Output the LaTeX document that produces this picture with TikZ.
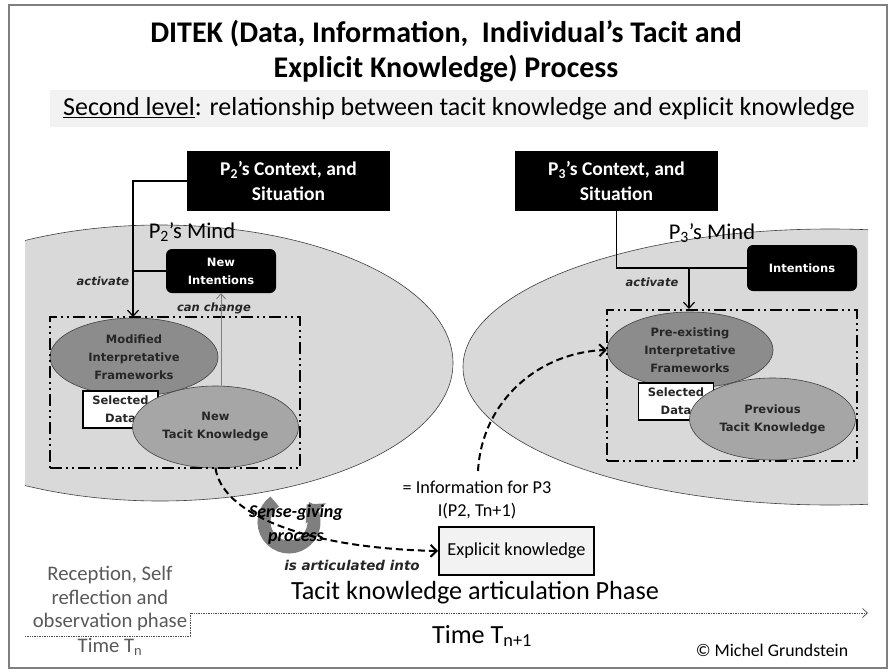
\documentclass[tikz,border=0pt]{standalone}
\usepackage{fontspec}
\setmainfont{Carlito}
\newfontfamily\dvs{DejaVu Sans}
\usetikzlibrary{arrows.meta,shapes.geometric}
\definecolor{mindfill}{HTML}{D9D9D9}
\definecolor{fwfill}{HTML}{8C8C8C}
\definecolor{tkfill}{HTML}{A6A6A6}
\definecolor{bandfill}{HTML}{F2F2F2}
\definecolor{edgegray}{HTML}{404040}
\definecolor{txtgray}{HTML}{595959}
\definecolor{icongray}{HTML}{7F7F7F}
\newcommand{\fsz}[2]{\fontsize{#1}{#2}\selectfont}
\begin{document}
\begin{tikzpicture}[x=1pt,y=-1pt,
 ctxbox/.style={fill=black,text=white,font=\bfseries\fsz{19.5}{25},align=center,minimum width=203pt,minimum height=60pt,inner sep=0pt},
 intbox/.style={fill=black,rounded corners=6pt,text=white,font=\dvs\bfseries\fsz{11.5}{18},align=center,inner sep=0pt},
 mind/.style={ellipse,fill=mindfill,draw=edgegray,line width=0.6pt,inner sep=0pt},
 fwell/.style={ellipse,fill=fwfill,draw=edgegray,line width=0.6pt,inner sep=0pt,minimum width=168pt,minimum height=78pt,font=\dvs\bfseries\fsz{11.5}{18},text=black!85,align=center},
 tkell/.style={fwell,fill=tkfill,minimum width=166pt,minimum height=82pt},
 seldata/.style={draw=black,line width=1.8pt,fill=white,minimum width=75pt,minimum height=37pt,inner sep=0pt,font=\dvs\bfseries\fsz{11.5}{18},align=center,text=black!85},
 dashbox/.style={draw=black,line width=2pt,dash pattern=on 12pt off 4pt on 2pt off 4pt on 2pt off 4pt,inner sep=0pt,minimum width=250pt,minimum height=151pt},
 smalllab/.style={font=\dvs\bfseries\itshape\fsz{11.5}{13},text=black!85},
 mindlab/.style={font=\fsz{22.5}{24}},
 conn/.style={line width=1.2pt},
 arr/.style={conn,-{Straight Barb[length=6pt,width=11pt,line width=1.2pt]}},
 grayarr/.style={line width=0.9pt,draw=icongray,-{Straight Barb[length=5pt,width=9pt]}},
 dasharr/.style={line width=2pt,dash pattern=on 7pt off 4pt,-{Straight Barb[length=6pt,width=12pt,line width=2pt]}},
 timeline/.style={draw=black!70,line width=0.7pt,dash pattern=on 1pt off 0.7pt,-{Straight Barb[length=5pt,width=9pt,line width=0.7pt]}},
]
\useasboundingbox (0,0) rectangle (892,672);
\draw[draw=icongray,line width=1.4pt] (9,5) rectangle (887,668);

% title
\node[font=\bfseries\fsz{30}{35},align=center] (title) at (446,51) {DITEK (Data, Information,\ \ Individual’s Tacit and\\Explicit Knowledge) Process};
\node[fill=bandfill,minimum width=818pt,minimum height=37pt,font=\fsz{26}{28},inner sep=0pt] (band) at (459,108.5) {\underline{Second level}: relationship between tacit knowledge and explicit knowledge};

% minds
\begin{scope}
\clip (25,0) rectangle (868,672);
\node[mind,minimum width=586pt,minimum height=276pt] (m2) at (160,363) {};
\node[mind,minimum width=734pt,minimum height=276pt] (m3) at (830,367) {};
\end{scope}
\node[mindlab] (m2lab) at (192,232) {P\textsubscript{2}’s Mind};
\node[mindlab] (m3lab) at (712,233) {P\textsubscript{3}’s Mind};

% context boxes
\node[ctxbox] (P2) at (288.5,181) {P\textsubscript{2}’s Context, and\\Situation};
\node[ctxbox] (P3) at (616.5,181) {P\textsubscript{3}’s Context, and\\Situation};

% intentions
\node[intbox,minimum width=110pt,minimum height=44pt] (NI) at (221,271) {New\\Intentions};
\node[intbox,minimum width=110pt,minimum height=46pt] (I3) at (802,268) {Intentions};

% left inner
\node[fwell] (fw2) at (134,357) {Modified\\Interpretative\\Frameworks};
\node[seldata] (sd2) at (120.5,409.5) {Selected\\Data};
\node[tkell] (tk2) at (215.5,427) {New\\Tacit Knowledge};
\node[dashbox] (d2) at (175,392.5) {};

% right inner
\node[fwell,minimum width=166pt,minimum height=76pt] (fw3) at (690,350) {Pre-existing\\Interpretative\\Frameworks};
\node[seldata] (sd3) at (676,401.5) {Selected\\Data};
\node[tkell] (tk3) at (772.5,419) {Previous\\Tacit Knowledge};
\node[dashbox] (d3) at (732,385.5) {};

% labels
\node[smalllab] (act2) at (103,281) {activate};
\node[smalllab] (act3) at (652,282) {activate};
\node[smalllab] (cc) at (214,308) {can change};

% connectors left
\coordinate (a2) at (133,317);
\draw[arr] (P2.west) -| (a2);
\draw[conn] (NI.west) -- (NI.west -| a2);
\draw[grayarr] (NI.south |- tk2.north) -- (NI.south);

% connectors right
\coordinate (a3) at (689,268);
\draw[conn] (P3.south) |- (I3.west);
\draw[arr] (a3) -- (a3 |- d3.north);

% explicit knowledge
\node[draw=black,line width=2pt,fill=bandfill,minimum width=155pt,minimum height=48pt,font=\fsz{18.3}{20},inner sep=0pt] (EK) at (516.5,551) {Explicit knowledge};
\node[font=\fsz{18.2}{23},align=center] (info) at (477,500) {= Information for P3\\I(P2, Tn+1)};
\coordinate (infotop) at (478,471);

% sense-giving icon
\coordinate (sgc) at (289,522);
\draw[draw=icongray,line width=13pt,-{Triangle[length=13pt,width=28pt]}] (sgc) ++(235:25) arc[start angle=235,end angle=-45,radius=25];
\node[font=\bfseries\itshape\fsz{18}{24},align=center] (sg) at (296,525) {Sense-giving\\process};
\node[smalllab,font=\dvs\bfseries\itshape\fsz{13.5}{15}] (art) at (352,565) {is articulated into};

% dashed curves
\draw[dasharr] (tk2.south) .. controls (222,512) and (300,548) .. (EK.west);
\draw[dasharr] (infotop) .. controls (482,400) and (540,352) .. (fw3.west);

% bottom
\node[font=\fsz{20.7}{23.5},text=txtgray,align=center] (rec) at (110,598.5) {Reception, Self\\reflection and\\observation phase};
\node[font=\fsz{20.7}{22},text=txtgray] (tn) at (110,647) {Time T\textsubscript{n}};
\node[font=\fsz{26.2}{28}] (tkap) at (475,593) {Tacit knowledge articulation Phase};
\node[font=\fsz{26.2}{28}] (tn1) at (482,636) {Time T\textsubscript{n+1}};
\node[font=\fsz{17.8}{19}] (copy) at (772,650) {© Michel Grundstein};
\coordinate (t0) at (25,636);
\coordinate (t1) at (190,636);
\coordinate (t2) at (190,613);
\coordinate (t3) at (868,613);
\draw[timeline] (t0) -- (t1) -- (t2) -- (t3);
\end{tikzpicture}
\end{document}
